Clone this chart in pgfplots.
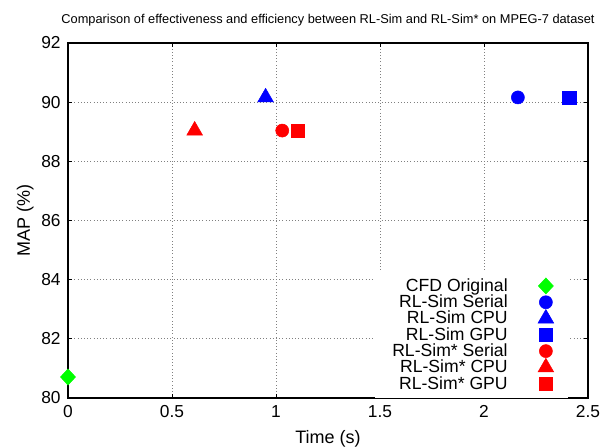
\documentclass[border=0pt]{standalone}
\usepackage{pgfplots}
\pgfplotsset{compat=1.18}
\usepackage{fontspec}
\setmainfont{Liberation Sans}
\definecolor{gpgreen}{RGB}{0,255,0}
\begin{document}
\begin{tikzpicture}
\begin{axis}[
  scale only axis,
  width=390pt, height=266.25pt,
  xmin=0, xmax=2.5, ymin=80, ymax=92,
  xtick={0,0.5,1,1.5,2,2.5},
  ytick={80,82,84,86,88,90,92},
  xticklabels={0,0.5,1,1.5,2,2.5},
  /pgf/number format/assume math mode=true,
  ticklabel style={font=\fontsize{13}{15}\selectfont},
  xticklabel style={yshift=-2pt},
  yticklabel style={xshift=-2pt},
  grid=major,
  major grid style={gray, dotted, line width=0.6pt},
  axis line style={black, line width=0.8pt},
  tick style={black, line width=0.6pt},
  major tick length=3pt,
  xlabel={Time (s)},
  ylabel={MAP (\%)},
  label style={font=\fontsize{13.5}{15}\selectfont},
  xlabel style={yshift=-2.5pt},
  ylabel style={yshift=-1pt},
  title={Comparison of effectiveness and efficiency between RL-Sim and RL-Sim* on MPEG-7 dataset},
  title style={font=\fontsize{9.6}{11}\selectfont, yshift=3pt},
  clip=false,
  legend plot pos=right,
  legend cell align=right,
  legend style={at={(1,0)}, anchor=south east, xshift=-14.5pt, draw=none, fill=white,
    font=\fontsize{13.2}{14}\selectfont, inner xsep=11pt, inner ysep=3pt,
    row sep=-2.85pt, column sep=20.75pt},
]
\addplot[only marks, mark=diamond*, mark size=6pt, mark options={xscale=1.25}, color=gpgreen] coordinates {(0,80.71)};
\addlegendentry{CFD Original}
\addplot[only marks, mark=*, mark size=4.9pt, color=blue] coordinates {(2.163,90.16)};
\addlegendentry{RL-Sim Serial}
\addplot[only marks, mark=triangle*, mark size=6.8pt, color=blue] coordinates {(0.95,90.16)};
\addlegendentry{RL-Sim CPU}
\addplot[only marks, mark=square*, mark size=4.9pt, color=blue] coordinates {(2.41,90.16)};
\addlegendentry{RL-Sim GPU}
\addplot[only marks, mark=*, mark size=4.9pt, color=red] coordinates {(1.03,89.04)};
\addlegendentry{RL-Sim* Serial}
\addplot[only marks, mark=triangle*, mark size=6.8pt, color=red] coordinates {(0.609,89.04)};
\addlegendentry{RL-Sim* CPU}
\addplot[only marks, mark=square*, mark size=4.9pt, color=red] coordinates {(1.106,89.04)};
\addlegendentry{RL-Sim* GPU}
\end{axis}
\pgfresetboundingbox
\useasboundingbox (-51pt,-36.75pt) rectangle (399.75pt,298.5pt);
\end{tikzpicture}
\end{document}
